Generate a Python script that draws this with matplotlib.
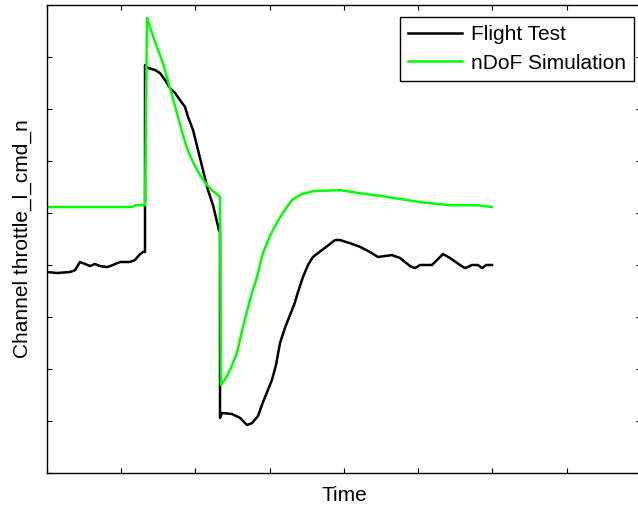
import matplotlib
matplotlib.use("Agg")
import matplotlib.pyplot as plt

plt.rcParams['font.family'] = ['Liberation Sans', 'DejaVu Sans']

# Flight test data (time, value)
flight_t = [0.0, 0.135, 0.31, 0.377, 0.444, 0.512, 0.579, 0.646, 0.714, 0.808, 0.889,
            0.983, 1.118, 1.185, 1.253, 1.293, 1.32, 1.32, 1.36, 1.455, 1.522, 1.589,
            1.657, 1.724, 1.791, 1.859, 1.899, 1.966, 2.034, 2.1, 2.168, 2.236, 2.316,
            2.33, 2.33, 2.357, 2.49, 2.6, 2.694, 2.76, 2.842, 2.909, 2.976, 3.03, 3.084,
            3.138, 3.205, 3.273, 3.327, 3.38, 3.448, 3.515, 3.582, 3.65, 3.744, 3.879,
            3.946, 4.08, 4.215, 4.35, 4.458, 4.552, 4.646, 4.754, 4.889, 4.956, 5.024,
            5.185, 5.333, 5.428, 5.562, 5.63, 5.724, 5.805, 5.859, 5.913, 5.993]
flight_v = [3.865, 3.846, 3.865, 3.90, 4.058, 4.02, 3.98, 4.02, 3.98, 3.96, 4.0,
            4.058, 4.058, 4.096, 4.21, 4.25, 4.25, 7.846, 7.79, 7.75, 7.69, 7.56,
            7.40, 7.31, 7.17, 7.04, 6.85, 6.60, 6.21, 5.83, 5.44, 5.15, 4.67,
            4.67, 1.06, 1.154, 1.135, 1.06, 0.923, 0.96, 1.096, 1.365, 1.596, 1.79, 2.077,
            2.5, 2.79, 3.04, 3.23, 3.48, 3.77, 4.0, 4.154, 4.23, 4.33, 4.48,
            4.48, 4.42, 4.35, 4.25, 4.154, 4.173, 4.19, 4.135, 3.98, 3.94, 4.0,
            4.0, 4.21, 4.135, 4.0, 3.94, 4.0, 4.0, 3.94, 4.0, 4.0]

# nDoF simulation data (time, value)
sim_t = [0.0, 1.145, 1.185, 1.32, 1.347, 1.455, 1.562, 1.657, 1.751, 1.832, 1.886,
         1.953, 2.02, 2.088, 2.155, 2.236, 2.316, 2.33, 2.343, 2.41, 2.465, 2.559,
         2.64, 2.734, 2.828, 2.909, 3.003, 3.111, 3.205, 3.30, 3.407, 3.582, 3.946,
         4.215, 4.485, 4.754, 5.024, 5.428, 5.79, 5.993]
sim_v = [5.115, 5.115, 5.15, 5.15, 8.75, 8.29, 7.885, 7.40, 6.92, 6.50, 6.25,
         6.02, 5.83, 5.67, 5.54, 5.42, 5.33, 5.31, 1.69, 1.83, 1.98, 2.31,
         2.81, 3.33, 3.77, 4.23, 4.56, 4.85, 5.06, 5.25, 5.35, 5.42, 5.44,
         5.38, 5.33, 5.27, 5.21, 5.15, 5.15, 5.115]

series_labels = ["Flight Test", "nDoF Simulation"]
x_ticks = list(range(0, 9))
y_ticks = list(range(0, 10))

W, H = 638, 509
fig = plt.figure(figsize=(W / 100, H / 100), dpi=100)
ax = fig.add_axes([47 / W, (H - 473) / H, 594 / W, 468 / H])

ax.plot(flight_t, flight_v, color='black', lw=1.8, label=series_labels[0])
ax.plot(sim_t, sim_v, color='#00ff00', lw=1.8, label=series_labels[1])

ax.set_xlim(x_ticks[0], x_ticks[-1])
ax.set_ylim(y_ticks[0], y_ticks[-1])
ax.set_xticks(x_ticks)
ax.set_yticks(y_ticks)
ax.set_xticklabels([])
ax.set_yticklabels([])
ax.tick_params(direction='in', length=3.6, width=0.8, top=True, right=True)
for s in ax.spines.values():
    s.set_linewidth(1.0)

ax.set_xlabel("Time", fontsize=15, labelpad=6)
ax.set_ylabel("Channel throttle_l_cmd_n", fontsize=15, labelpad=7)

leg = ax.legend(loc='upper right', bbox_to_anchor=(0.9882, 0.9744), fontsize=15,
                frameon=True, fancybox=False, framealpha=1, edgecolor='black',
                handlelength=2.6, handletextpad=0.4, borderpad=0.4,
                labelspacing=0.45, borderaxespad=0)
leg.get_frame().set_linewidth(1.0)

fig.savefig("out.png", dpi=100)
